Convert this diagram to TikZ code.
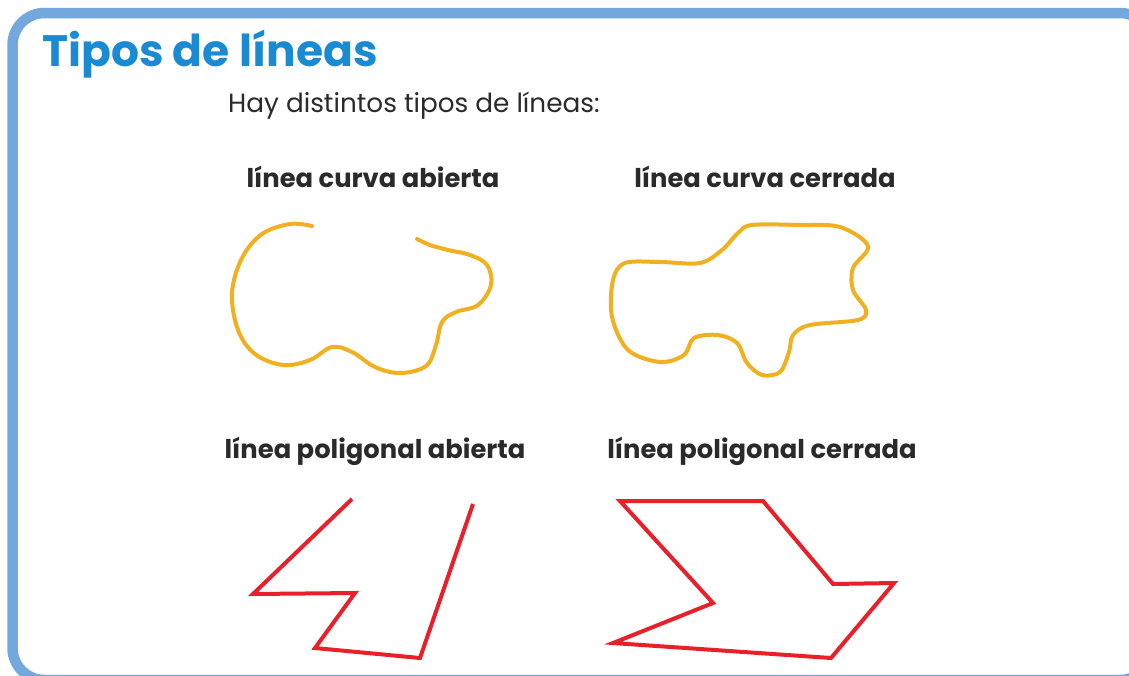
\documentclass[tikz,border=0pt]{standalone}
\usepackage{fontspec}
\setmainfont{Poppins}
\definecolor{framebl}{HTML}{72A8DE}
\definecolor{titlebl}{HTML}{1A8AD2}
\definecolor{curvey}{HTML}{F0B020}
\definecolor{polyred}{HTML}{E8202A}
\definecolor{txtgray}{HTML}{2A2A2A}
\tikzset{
  titlest/.style={font=\bfseries\fontsize{44}{48}\selectfont, text=titlebl, inner sep=0pt, anchor=base west},
  introst/.style={font=\fontsize{26.3}{30}\selectfont, text=txtgray, inner sep=0pt, anchor=base west},
  labelst/.style={font=\bfseries\fontsize{25.8}{30}\selectfont, text=txtgray, inner sep=0pt, anchor=base},
  curvest/.style={draw=curvey, line width=4pt, line cap=round, line join=round},
  polyst/.style={draw=polyred, line width=4pt, line join=miter},
}
\begin{document}
\begin{tikzpicture}[x=1pt,y=-1pt]
\useasboundingbox (0,0) rectangle (1129,675);
\begin{scope}
\clip (0,0) rectangle (1129,675);
\draw[framebl, line width=10.5pt, rounded corners=32pt] (12.5,13) rectangle (1152,680);
\end{scope}
\node[titlest] (title) at (42,66) {Tipos de líneas};
\node[introst] (intro) at (228,112) {Hay distintos tipos de líneas:};
\node[labelst] (l1) at (373,187) {línea curva abierta};
\node[labelst] (l2) at (765,187) {línea curva cerrada};
\node[labelst] (l3) at (375,458) {línea poligonal abierta};
\node[labelst] (l4) at (762,458) {línea poligonal cerrada};
% open curve
\draw[curvest] plot[smooth, tension=0.6] coordinates {
 (312,226) (290,224) (262,234) (242,258) (232,293) (238,330) (255,354) (283,365)
 (310,360) (332,347) (352,352) (375,367) (400,373) (426,366) (436,345) (442,322)
 (456,312) (478,305) (491,285) (487,265) (470,255) (448,250) (430,245) (417,239)};
% closed curve
\draw[curvest] plot[smooth cycle, tension=0.55] coordinates {
 (625,263) (660,262) (700,263) (722,250) (738,233) (752,225) (800,225) (840,227)
 (868,246) (853,268) (853,290) (866,310) (858,320) (810,325) (793,335) (789,352)
 (780,372) (762,375) (747,363) (737,343) (718,335) (694,338) (684,355) (660,362)
 (628,350) (612,317) (613,280)};
% open polygon
\draw[polyst] (352,499) -- (253,594) -- (355,593) -- (315,648) -- (420,658) -- (473,504);
% closed polygon
\draw[polyst] (620,501) -- (763,501) -- (833,584) -- (894,583) -- (831,658) -- (613,643) -- (713,603) -- cycle;
\end{tikzpicture}
\end{document}
